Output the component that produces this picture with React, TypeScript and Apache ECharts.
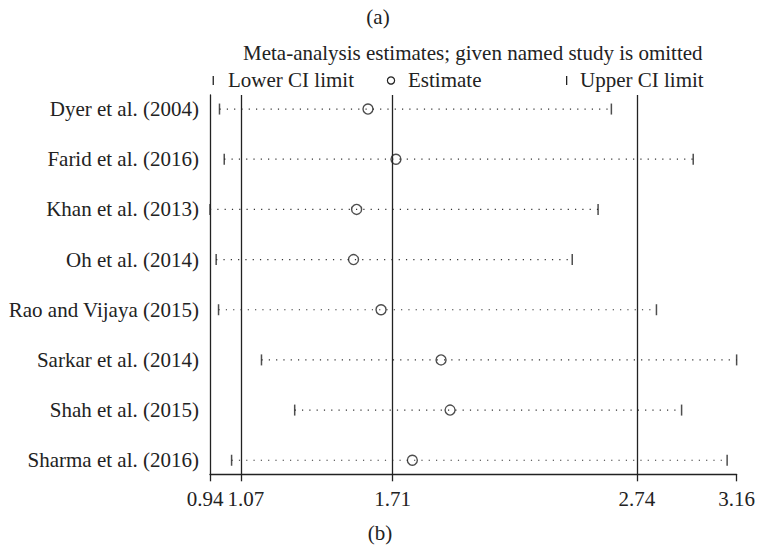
import React, { useEffect, useRef } from "react";
import * as echarts from "echarts";

const studies = [
  "Dyer et al. (2004)",
  "Farid et al. (2016)",
  "Khan et al. (2013)",
  "Oh et al. (2014)",
  "Rao and Vijaya (2015)",
  "Sarkar et al. (2014)",
  "Shah et al. (2015)",
  "Sharma et al. (2016)",
];
const lowerCI = [0.98, 1.0, 0.94, 0.966, 0.976, 1.157, 1.297, 1.031];
const estimate = [1.606, 1.724, 1.558, 1.545, 1.661, 1.914, 1.952, 1.793];
const upperCI = [2.632, 2.977, 2.576, 2.467, 2.822, 3.16, 2.928, 3.12];
const xTicks = [0.94, 1.07, 1.71, 2.74, 3.16];
const overallLines = [1.07, 1.71, 2.74];
const rows = studies.map((_, i) => i + 1);

const FONT = "'Liberation Serif', 'Times New Roman', serif";
const INK = "#222";
const FS = 21;

export default function App() {
  const ref = useRef<HTMLDivElement>(null);
  useEffect(() => {
    if (!ref.current) return;
    const chart = echarts.init(ref.current, null, { renderer: "svg" });
    const option: any = {
      animation: false,
      backgroundColor: "#fff",
      grid: { left: 210, right: 18.7, top: 95, bottom: 73.7, containLabel: false },
      xAxis: {
        type: "value",
        min: 0.94,
        max: 3.16,
        splitLine: { show: false },
        axisLine: { show: true, onZero: false, lineStyle: { color: INK, width: 1.3 } },
        axisTick: { show: true, customValues: xTicks, length: 7, lineStyle: { color: INK, width: 1.3 } },
        axisLabel: {
          customValues: xTicks,
          margin: 14,
          color: INK,
          fontFamily: FONT,
          fontSize: FS,
          formatter: (v: number) => {
            const s = v.toFixed(2);
            if (Math.abs(v - 0.94) < 1e-6) return "{l|" + s + "}";
            if (Math.abs(v - 1.07) < 1e-6) return "{r|" + s + "}";
            return s;
          },
          rich: {
            l: { fontFamily: FONT, fontSize: FS, color: INK, padding: [0, 10, 0, 0] },
            r: { fontFamily: FONT, fontSize: FS, color: INK, padding: [0, 0, 0, 10] },
          },
        },
      },
      yAxis: {
        type: "value",
        inverse: true,
        min: 0.72,
        max: 8.28,
        splitLine: { show: false },
        axisLine: { show: true, onZero: false, lineStyle: { color: INK, width: 1.3 } },
        axisTick: { show: false },
        axisLabel: {
          customValues: rows,
          margin: 11,
          color: INK,
          fontFamily: FONT,
          fontSize: FS,
          formatter: (v: number) => studies[Math.round(v) - 1] ?? "",
        },
      },
      series: [
        {
          type: "custom",
          name: "ci",
          clip: false,
          data: rows.map((r, i) => [lowerCI[i], upperCI[i], r]),
          encode: { x: [0, 1], y: 2 },
          renderItem: (params: any, api: any) => {
            const a = api.coord([api.value(0), api.value(2)]);
            const b = api.coord([api.value(1), api.value(2)]);
            return {
              type: "line",
              shape: { x1: a[0], y1: a[1], x2: b[0], y2: b[1] },
              style: { stroke: "#333", lineWidth: 1.2, lineDash: [1.2, 6.1] },
            };
          },
          markLine: {
            silent: true,
            symbol: "none",
            label: { show: false },
            lineStyle: { color: INK, width: 1.3, type: "solid" },
            data: overallLines.map((v) => ({ xAxis: v })),
          },
          z: 2,
        },
        {
          type: "scatter",
          name: "Lower CI limit",
          data: rows.map((r, i) => [lowerCI[i], r]),
          symbol: "rect",
          symbolSize: [1.5, 11],
          itemStyle: { color: INK },
          z: 3,
        },
        {
          type: "scatter",
          name: "Estimate",
          data: rows.map((r, i) => [estimate[i], r]),
          symbol: "circle",
          symbolSize: 10,
          itemStyle: { color: "rgba(0,0,0,0)", borderColor: INK, borderWidth: 1.4 },
          z: 4,
        },
        {
          type: "scatter",
          name: "Upper CI limit",
          data: rows.map((r, i) => [upperCI[i], r]),
          symbol: "rect",
          symbolSize: [1.5, 11],
          itemStyle: { color: INK },
          z: 3,
        },
      ],
      graphic: [
        {
          type: "text",
          x: 378,
          y: 17,
          style: { text: "(a)", fontFamily: FONT, fontSize: FS, fill: INK, align: "center", verticalAlign: "middle" },
        },
        {
          type: "text",
          x: 243,
          y: 53,
          style: {
            text: "Meta-analysis estimates; given named study is omitted",
            fontFamily: FONT,
            fontSize: FS,
            fill: INK,
            align: "left",
            verticalAlign: "middle",
          },
        },
        { type: "rect", shape: { x: 212.6, y: 76, width: 1.3, height: 9 }, style: { fill: INK } },
        {
          type: "text",
          x: 228,
          y: 80,
          style: { text: "Lower CI limit", fontFamily: FONT, fontSize: FS, fill: INK, align: "left", verticalAlign: "middle" },
        },
        { type: "circle", shape: { cx: 391, cy: 80.5, r: 3.6 }, style: { fill: "none", stroke: INK, lineWidth: 1.2 } },
        {
          type: "text",
          x: 408,
          y: 80,
          style: { text: "Estimate", fontFamily: FONT, fontSize: FS, fill: INK, align: "left", verticalAlign: "middle" },
        },
        { type: "rect", shape: { x: 566, y: 76, width: 1.3, height: 9 }, style: { fill: INK } },
        {
          type: "text",
          x: 580,
          y: 80,
          style: { text: "Upper CI limit", fontFamily: FONT, fontSize: FS, fill: INK, align: "left", verticalAlign: "middle" },
        },
        {
          type: "text",
          x: 380,
          y: 533,
          style: { text: "(b)", fontFamily: FONT, fontSize: FS, fill: INK, align: "center", verticalAlign: "middle" },
        },
      ],
    };
    chart.setOption(option);
    return () => chart.dispose();
  }, []);
  return <div ref={ref} style={{ width: 758, height: 548, position: "absolute", left: 0, top: 0 }} />;
}
